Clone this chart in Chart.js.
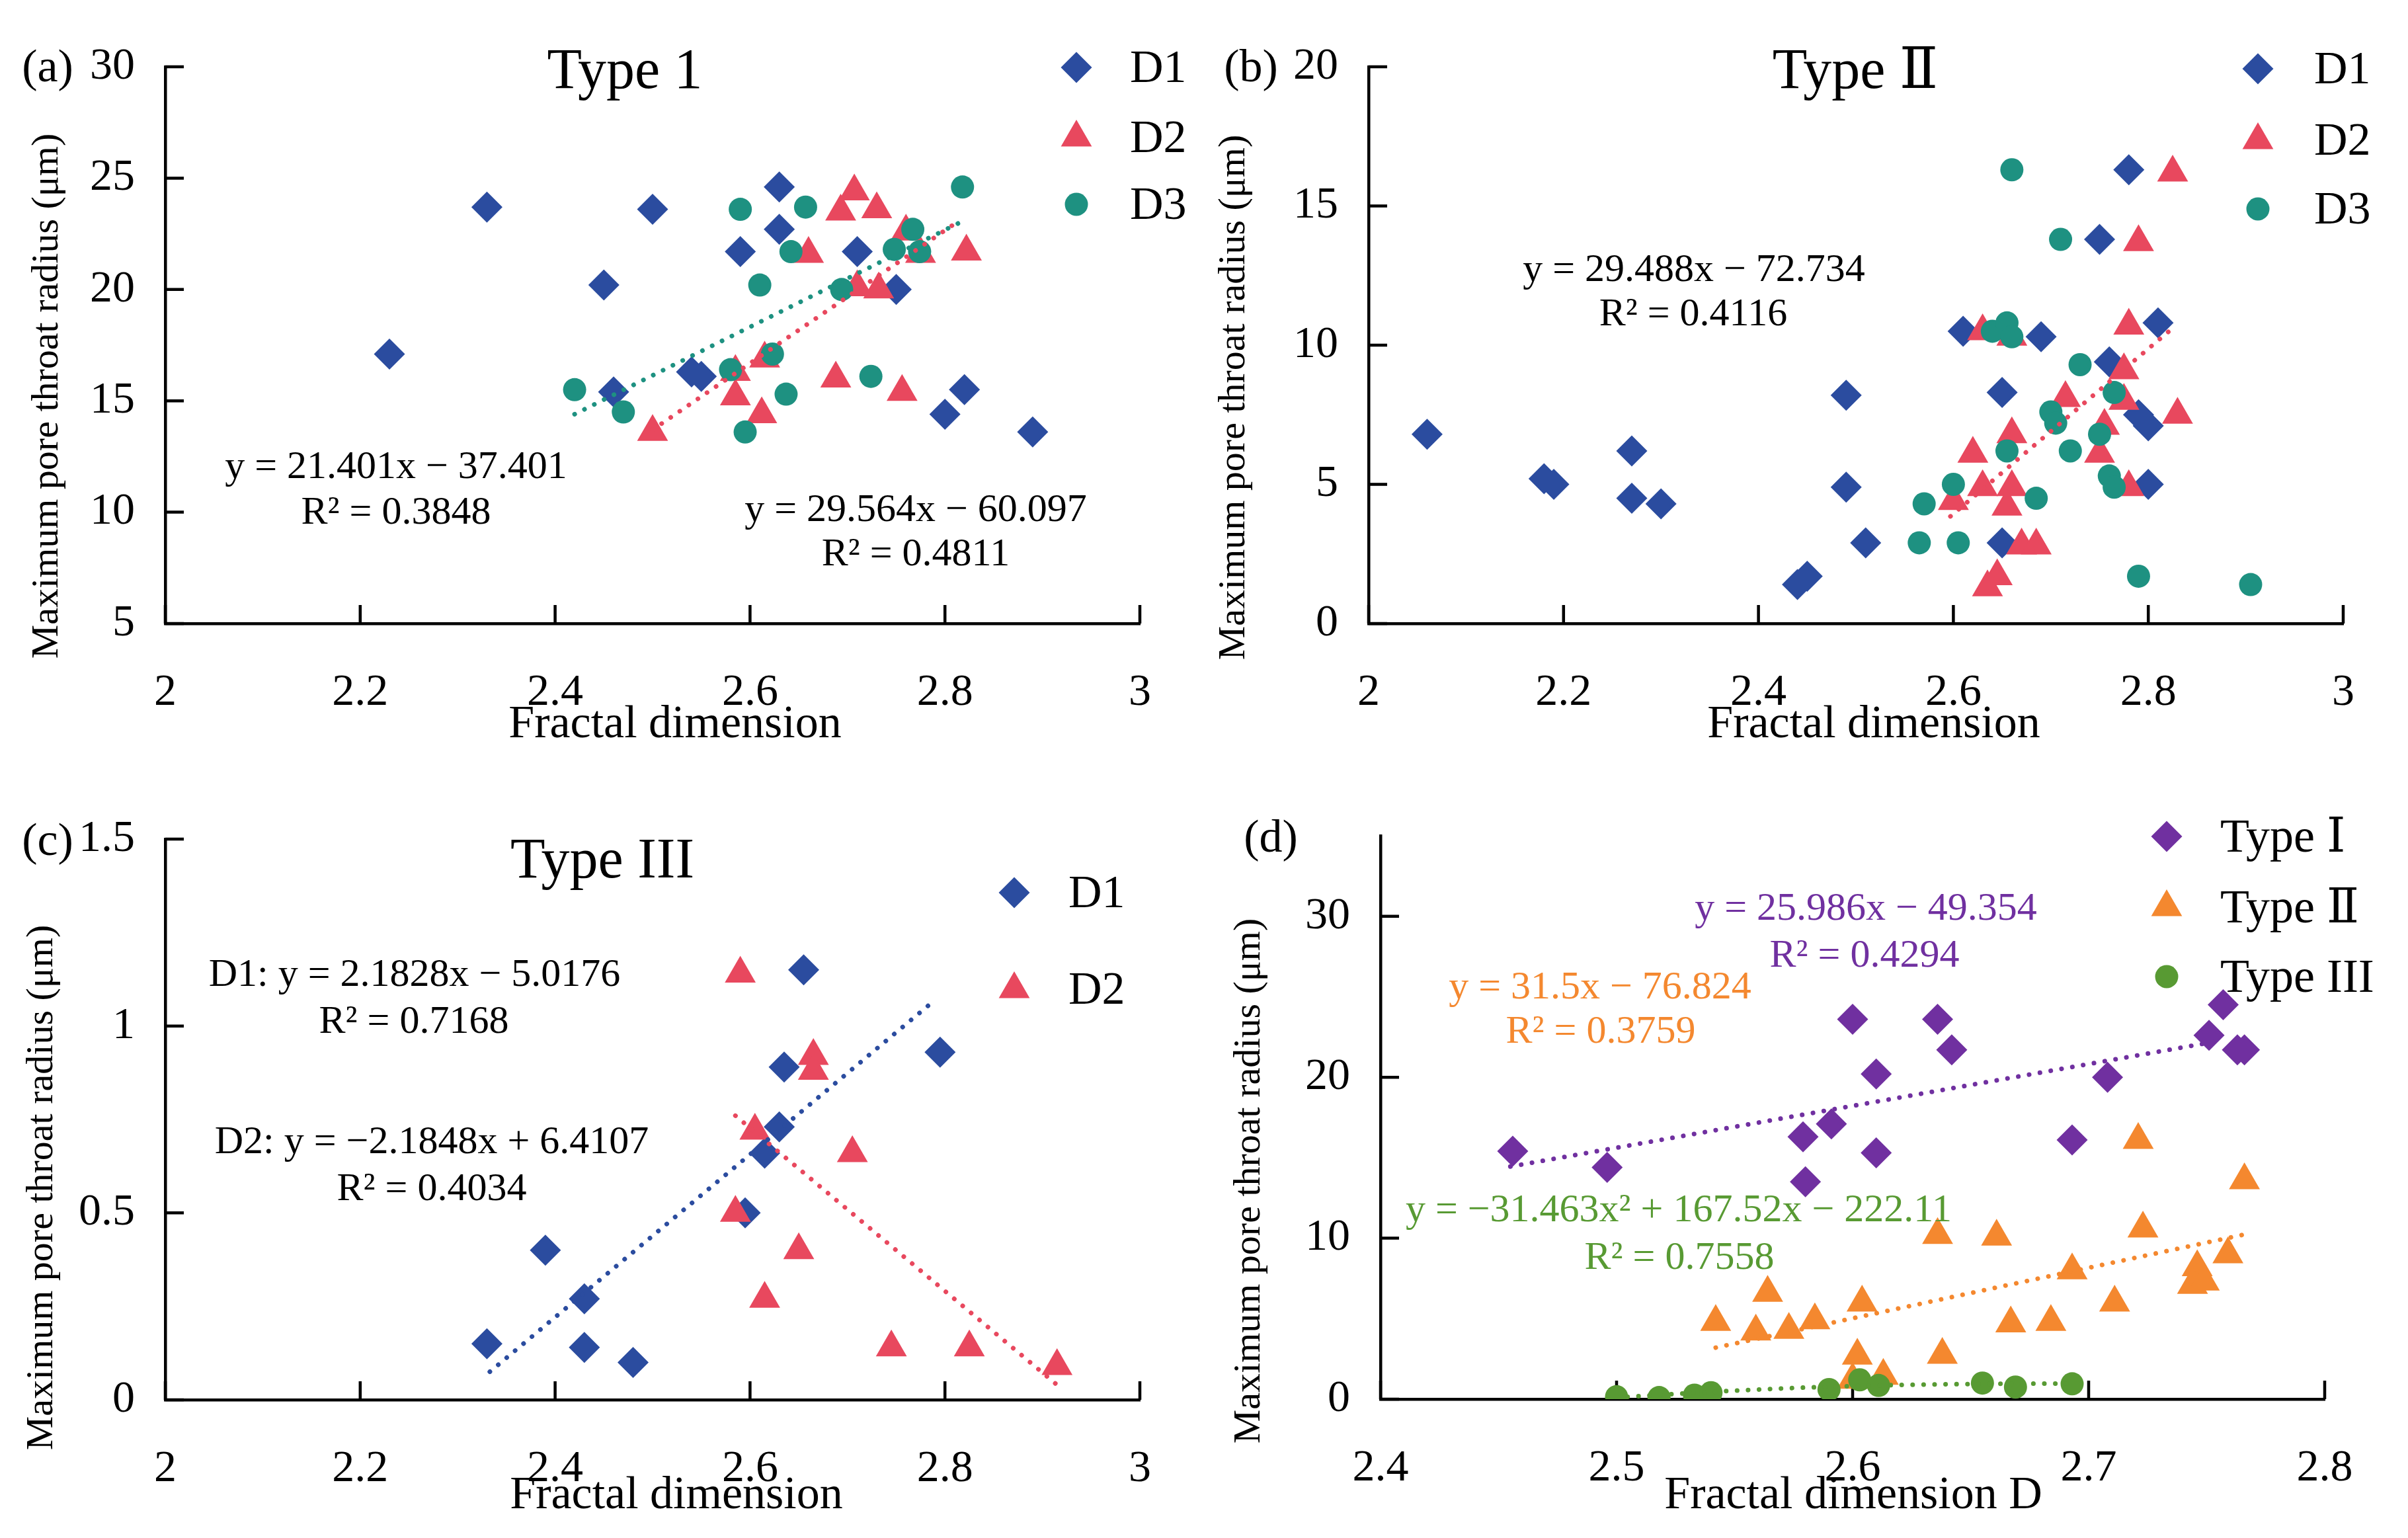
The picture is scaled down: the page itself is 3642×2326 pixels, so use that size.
<!DOCTYPE html>
<html>
<head>
<meta charset="utf-8">
<script src="https://cdn.jsdelivr.net/npm/chart.js@4.4.0/dist/chart.umd.min.js"></script>
<style>
html,body{margin:0;padding:0;background:#ffffff;overflow:hidden;}
#wrap{position:relative;width:3642px;height:2326px;background:#ffffff;}
canvas{position:absolute;left:0;top:0;}
</style>
</head>
<body>
<div id="wrap">
<canvas id="ca" width="3642" height="2326"></canvas>
<canvas id="cb" width="3642" height="2326"></canvas>
<canvas id="cc" width="3642" height="2326"></canvas>
<canvas id="cd" width="3642" height="2326"></canvas>
</div>
<script>
// ---------------- DATA ----------------
// Panel (a) Type 1
const aXTicks = [2, 2.2, 2.4, 2.6, 2.8, 3];
const aYTicks = [5, 10, 15, 20, 25, 30];
const aD1x = [2.23, 2.33, 2.50, 2.45, 2.46, 2.54, 2.55, 2.63, 2.63, 2.59, 2.71, 2.75, 2.80, 2.82, 2.89];
const aD1y = [17.1, 23.7, 23.6, 20.2, 15.4, 16.3, 16.1, 24.6, 22.7, 21.7, 21.7, 20.0, 14.4, 15.5, 13.6];
const aD2x = [2.50, 2.585, 2.585, 2.615, 2.612, 2.66, 2.688, 2.693, 2.707, 2.73, 2.71, 2.732, 2.756, 2.76, 2.775, 2.822];
const aD2y = [13.6, 16.3, 15.2, 16.9, 14.4, 21.6, 16.0, 23.5, 24.4, 23.6, 20.1, 20.0, 15.4, 22.6, 21.6, 21.7];
const aD3x = [2.42, 2.47, 2.59, 2.61, 2.58, 2.595, 2.623, 2.637, 2.642, 2.657, 2.694, 2.724, 2.748, 2.767, 2.774, 2.818];
const aD3y = [15.5, 14.5, 23.6, 20.2, 16.4, 13.6, 17.1, 15.3, 21.7, 23.7, 20.0, 16.1, 21.8, 22.7, 21.7, 24.6];
const aFitD3x = [2.42, 2.815];
const aFitD3y = [14.4, 23.0];
const aFitD2x = [2.50, 2.815];
const aFitD2y = [13.7, 23.1];

// Panel (b) Type II
const bXTicks = [2, 2.2, 2.4, 2.6, 2.8, 3];
const bYTicks = [0, 5, 10, 15, 20];
const bD1x = [2.06, 2.18, 2.19, 2.27, 2.27, 2.30, 2.49, 2.49, 2.51, 2.44, 2.45, 2.61, 2.69, 2.65, 2.65, 2.78, 2.75, 2.76, 2.79, 2.80, 2.81, 2.80];
const bD1y = [6.8, 5.2, 5.0, 6.2, 4.5, 4.3, 8.2, 4.9, 2.9, 1.4, 1.7, 10.5, 10.3, 8.3, 2.9, 16.3, 13.8, 9.4, 7.5, 7.1, 10.8, 5.0];
const bD2x = [2.60, 2.62, 2.63, 2.63, 2.635, 2.645, 2.66, 2.655, 2.66, 2.66, 2.67, 2.685, 2.715, 2.75, 2.755, 2.775, 2.78, 2.775, 2.78, 2.79, 2.825, 2.83];
const bD2y = [4.4, 6.1, 10.5, 4.9, 1.3, 1.7, 4.9, 4.2, 6.8, 10.3, 2.8, 2.8, 8.1, 6.1, 7.1, 9.1, 10.7, 8.0, 4.9, 13.7, 16.2, 7.5];
const bD3x = [2.66, 2.71, 2.64, 2.655, 2.66, 2.73, 2.70, 2.705, 2.765, 2.75, 2.72, 2.655, 2.76, 2.765, 2.60, 2.57, 2.685, 2.565, 2.605, 2.79, 2.905];
const bD3y = [16.3, 13.8, 10.5, 10.8, 10.3, 9.3, 7.6, 7.2, 8.3, 6.8, 6.2, 6.2, 5.3, 4.9, 5.0, 4.3, 4.5, 2.9, 2.9, 1.7, 1.4];
const bFitD2x = [2.597, 2.828];
const bFitD2y = [3.85, 10.7];

// Panel (c) Type III
const cXTicks = [2, 2.2, 2.4, 2.6, 2.8, 3];
const cYTicks = [0, 0.5, 1, 1.5];
const cD1x = [2.33, 2.39, 2.43, 2.43, 2.48, 2.595, 2.615, 2.63, 2.635, 2.655, 2.795];
const cD1y = [0.15, 0.40, 0.27, 0.14, 0.10, 0.50, 0.66, 0.73, 0.89, 1.15, 0.93];
const cD2x = [2.59, 2.585, 2.605, 2.665, 2.665, 2.705, 2.65, 2.615, 2.745, 2.825, 2.915];
const cD2y = [1.14, 0.50, 0.72, 0.92, 0.88, 0.66, 0.40, 0.27, 0.14, 0.14, 0.09];
const cFitD1x = [2.333, 2.79];
const cFitD1y = [0.075, 1.07];
const cFitD2x = [2.585, 2.915];
const cFitD2y = [0.76, 0.04];

// Panel (d) all types
const dXTicks = [2.4, 2.5, 2.6, 2.7, 2.8];
const dYTicks = [0, 10, 20, 30];
const dT1x = [2.456, 2.496, 2.579, 2.591, 2.580, 2.600, 2.610, 2.610, 2.636, 2.642, 2.693, 2.708, 2.751, 2.757, 2.763, 2.766];
const dT1y = [15.4, 14.4, 16.3, 17.1, 13.5, 23.6, 20.2, 15.3, 23.6, 21.7, 16.1, 20.0, 22.6, 24.5, 21.7, 21.7];
const dT2x = [2.542, 2.559, 2.564, 2.573, 2.584, 2.604, 2.602, 2.600, 2.613, 2.636, 2.638, 2.661, 2.667, 2.684, 2.693, 2.711, 2.721, 2.723, 2.746, 2.744, 2.749, 2.759, 2.766];
const dT2y = [4.8, 4.2, 6.6, 4.3, 4.9, 6.0, 2.7, 1.2, 1.45, 10.2, 2.75, 10.1, 4.7, 4.8, 8.0, 6.0, 16.1, 10.6, 8.2, 7.1, 7.3, 9.0, 13.6];
const dT3x = [2.500, 2.518, 2.533, 2.540, 2.590, 2.603, 2.611, 2.655, 2.669, 2.693];
const dT3y = [0.15, 0.1, 0.25, 0.4, 0.6, 1.2, 0.85, 1.0, 0.75, 0.95];
const dFitT1x = [2.455, 2.757];
const dFitT1y = [14.45, 22.3];
const dFitT2x = [2.542, 2.765];
const dFitT2y = [3.2, 10.2];
const dFitT3x = [2.50, 2.54, 2.58, 2.62, 2.66, 2.695];
const dFitT3y = [0.1, 0.45, 0.72, 0.88, 0.95, 0.97];

// ---------------- STYLE ----------------
const FONT = "'Liberation Serif','DejaVu Serif','Times New Roman',serif";
const C_BLUE = '#2B4C9F', C_RED = '#E8485E', C_TEAL = '#1E9181';
const C_PURPLE = '#7030A0', C_ORANGE = '#F4882F', C_GREEN = '#589A33';
const W = 3642, H = 2326, YW = 200, XH = 150, TICK = 28, AXW = 4.5;
const R_DIA = 23.5, R_TRI = 27, R_CIR = 17.5;

function pts(xs, ys) { return xs.map((v, i) => ({ x: v, y: ys[i] })); }

function marker(label, xs, ys, style, color, order) {
  const r = style === 'rectRot' ? R_DIA : (style === 'triangle' ? R_TRI : R_CIR);
  return { label, data: pts(xs, ys), pointStyle: style, pointRadius: r, pointHoverRadius: r,
    backgroundColor: color, borderColor: color, pointBorderWidth: 0, borderWidth: 0, showLine: false, order };
}
function fit(xs, ys, color, curve) {
  return { label: 'fit', data: pts(xs, ys), showLine: true, pointRadius: 0, pointHoverRadius: 0,
    borderColor: color, backgroundColor: color, borderWidth: 7, borderDash: [0.1, 16.5],
    borderCapStyle: 'round', fill: false, tension: curve ? 0.4 : 0,
    cubicInterpolationMode: curve ? 'monotone' : 'default', order: 0 };
}

function drawShape(ctx, style, x, y, color) {
  ctx.fillStyle = color;
  ctx.beginPath();
  if (style === 'rectRot') {
    const r = R_DIA;
    ctx.moveTo(x, y - r); ctx.lineTo(x + r, y); ctx.lineTo(x, y + r); ctx.lineTo(x - r, y);
  } else if (style === 'triangle') {
    const r = R_TRI;
    ctx.moveTo(x, y - r); ctx.lineTo(x + 0.866 * r, y + 0.5 * r); ctx.lineTo(x - 0.866 * r, y + 0.5 * r);
  } else {
    ctx.arc(x, y, R_CIR, 0, Math.PI * 2);
  }
  ctx.closePath();
  ctx.fill();
}

function makeChart(id, P) {
  const box = P.box;
  const deco = {
    id: 'deco_' + id,
    beforeDatasetsDraw(chart) {
      const ctx = chart.ctx, ca = chart.chartArea, xs = chart.scales.x, ys = chart.scales.y;
      ctx.save();
      ctx.strokeStyle = '#000'; ctx.lineWidth = AXW; ctx.lineCap = 'butt';
      ctx.beginPath();
      xs.ticks.forEach(t => { const px = xs.getPixelForValue(t.value); ctx.moveTo(px, ca.bottom); ctx.lineTo(px, ca.bottom - TICK); });
      ys.ticks.forEach(t => { const py = ys.getPixelForValue(t.value); ctx.moveTo(ca.left, py); ctx.lineTo(ca.left + TICK, py); });
      ctx.stroke();
      ctx.restore();
    },
    afterDraw(chart) {
      const ctx = chart.ctx;
      ctx.save();
      ctx.textBaseline = 'middle';
      P.texts.forEach(t => {
        ctx.font = t.size + 'px ' + FONT;
        ctx.fillStyle = t.color || '#000';
        ctx.textAlign = t.align || 'center';
        if (t.rot) {
          ctx.save(); ctx.translate(t.x, t.y); ctx.rotate(-Math.PI / 2);
          ctx.fillText(t.t, 0, 0); ctx.restore();
        } else {
          ctx.fillText(t.t, t.x, t.y);
        }
      });
      const L = P.legend;
      L.items.forEach(it => {
        drawShape(ctx, it.style, L.mx, it.y, it.color);
        ctx.font = L.size + 'px ' + FONT;
        ctx.fillStyle = '#000'; ctx.textAlign = 'left';
        ctx.fillText(it.label, L.tx, it.y + 4);
      });
      ctx.restore();
    }
  };
  const tickFont = { family: FONT, size: 68 };
  return new Chart(document.getElementById(id), {
    type: 'scatter',
    data: { datasets: P.datasets },
    options: {
      responsive: false, animation: false, events: [], devicePixelRatio: 1,
      layout: { padding: { left: box.L - YW, right: W - box.R, top: box.T, bottom: H - box.B - XH } },
      plugins: { legend: { display: false }, tooltip: { enabled: false }, title: { display: false } },
      scales: {
        x: {
          type: 'linear', min: P.xr[0], max: P.xr[1],
          afterBuildTicks: s => { s.ticks = P.xt.map(v => ({ value: v })); },
          afterFit: s => { s.height = XH; },
          ticks: { font: tickFont, color: '#000', padding: 64, maxRotation: 0, autoSkip: false, callback: v => String(v) },
          grid: { display: false, drawTicks: false },
          border: { display: true, color: '#000', width: AXW }
        },
        y: {
          type: 'linear', min: P.yr[0], max: P.yr[1],
          afterBuildTicks: s => { s.ticks = P.yt.map(v => ({ value: v })); },
          afterFit: s => { s.width = YW; },
          ticks: { font: tickFont, color: '#000', padding: 46, autoSkip: false, callback: v => String(v) },
          grid: { display: false, drawTicks: false },
          border: { display: true, color: '#000', width: AXW }
        }
      }
    },
    plugins: [deco]
  });
}

const YT = 'Maximum pore throat radius (\u03bcm)';

// Panel (a)
makeChart('ca', {
  box: { L: 250, R: 1724, T: 101, B: 943 }, xr: [2, 3], yr: [5, 30], xt: aXTicks, yt: aYTicks,
  datasets: [
    fit(aFitD3x, aFitD3y, C_TEAL), fit(aFitD2x, aFitD2y, C_RED),
    marker('D3', aD3x, aD3y, 'circle', C_TEAL, 1),
    marker('D2', aD2x, aD2y, 'triangle', C_RED, 2),
    marker('D1', aD1x, aD1y, 'rectRot', C_BLUE, 3)
  ],
  texts: [
    { t: '(a)', x: 72, y: 105, size: 70 },
    { t: 'Type 1', x: 945, y: 110, size: 86 },
    { t: 'y = 21.401x \u2212 37.401', x: 599, y: 707, size: 60 },
    { t: 'R\u00b2 = 0.3848', x: 599, y: 776, size: 60 },
    { t: 'y = 29.564x \u2212 60.097', x: 1385, y: 772, size: 60 },
    { t: 'R\u00b2 = 0.4811', x: 1385, y: 839, size: 60 },
    { t: 'Fractal dimension', x: 1021, y: 1097, size: 70 },
    { t: YT, x: 72, y: 599, size: 58, rot: true }
  ],
  legend: { mx: 1628, tx: 1709, size: 70, items: [
    { label: 'D1', style: 'rectRot', color: C_BLUE, y: 102 },
    { label: 'D2', style: 'triangle', color: C_RED, y: 208 },
    { label: 'D3', style: 'circle', color: C_TEAL, y: 309 }
  ] }
});

// Panel (b)
makeChart('cb', {
  box: { L: 2070, R: 3544, T: 101, B: 943 }, xr: [2, 3], yr: [0, 20], xt: bXTicks, yt: bYTicks,
  datasets: [
    fit(bFitD2x, bFitD2y, C_RED),
    marker('D3', bD3x, bD3y, 'circle', C_TEAL, 1),
    marker('D2', bD2x, bD2y, 'triangle', C_RED, 2),
    marker('D1', bD1x, bD1y, 'rectRot', C_BLUE, 3)
  ],
  texts: [
    { t: '(b)', x: 1892, y: 105, size: 70 },
    { t: 'Type \u2161', x: 2806, y: 110, size: 86 },
    { t: 'y = 29.488x \u2212 72.734', x: 2562, y: 409, size: 60 },
    { t: 'R\u00b2 = 0.4116', x: 2561, y: 476, size: 60 },
    { t: 'Fractal dimension', x: 2834, y: 1097, size: 70 },
    { t: YT, x: 1867, y: 601, size: 58, rot: true }
  ],
  legend: { mx: 3415, tx: 3500, size: 70, items: [
    { label: 'D1', style: 'rectRot', color: C_BLUE, y: 104 },
    { label: 'D2', style: 'triangle', color: C_RED, y: 212 },
    { label: 'D3', style: 'circle', color: C_TEAL, y: 316 }
  ] }
});

// Panel (c)
makeChart('cc', {
  box: { L: 250, R: 1724, T: 1269, B: 2117 }, xr: [2, 3], yr: [0, 1.5], xt: cXTicks, yt: cYTicks,
  datasets: [
    fit(cFitD1x, cFitD1y, C_BLUE), fit(cFitD2x, cFitD2y, C_RED),
    marker('D2', cD2x, cD2y, 'triangle', C_RED, 2),
    marker('D1', cD1x, cD1y, 'rectRot', C_BLUE, 3)
  ],
  texts: [
    { t: '(c)', x: 72, y: 1275, size: 70 },
    { t: 'Type III', x: 911, y: 1304, size: 86 },
    { t: 'D1: y = 2.1828x \u2212 5.0176', x: 627, y: 1475, size: 60 },
    { t: 'R\u00b2 = 0.7168', x: 626, y: 1546, size: 60 },
    { t: 'D2: y = \u22122.1848x + 6.4107', x: 653, y: 1728, size: 60 },
    { t: 'R\u00b2 = 0.4034', x: 653, y: 1799, size: 60 },
    { t: 'Fractal dimension', x: 1023, y: 2263, size: 70 },
    { t: YT, x: 64, y: 1796, size: 58, rot: true }
  ],
  legend: { mx: 1534, tx: 1616, size: 70, items: [
    { label: 'D1', style: 'rectRot', color: C_BLUE, y: 1350 },
    { label: 'D2', style: 'triangle', color: C_RED, y: 1496 }
  ] }
});

// Panel (d)
makeChart('cd', {
  box: { L: 2088, R: 3516, T: 1264, B: 2116 }, xr: [2.4, 2.8], yr: [0, 35], xt: dXTicks, yt: dYTicks,
  datasets: [
    fit(dFitT1x, dFitT1y, C_PURPLE), fit(dFitT2x, dFitT2y, C_ORANGE), fit(dFitT3x, dFitT3y, C_GREEN, true),
    marker('Type III', dT3x, dT3y, 'circle', C_GREEN, 1),
    marker('Type II', dT2x, dT2y, 'triangle', C_ORANGE, 2),
    marker('Type I', dT1x, dT1y, 'rectRot', C_PURPLE, 3)
  ],
  texts: [
    { t: '(d)', x: 1922, y: 1270, size: 70 },
    { t: 'y = 25.986x \u2212 49.354', x: 2822, y: 1375, size: 60, color: C_PURPLE },
    { t: 'R\u00b2 = 0.4294', x: 2820, y: 1446, size: 60, color: C_PURPLE },
    { t: 'y = 31.5x \u2212 76.824', x: 2420, y: 1494, size: 60, color: C_ORANGE },
    { t: 'R\u00b2 = 0.3759', x: 2421, y: 1561, size: 60, color: C_ORANGE },
    { t: 'y = \u221231.463x\u00b2 + 167.52x \u2212 222.11', x: 2539, y: 1831, size: 60, color: C_GREEN },
    { t: 'R\u00b2 = 0.7558', x: 2540, y: 1903, size: 60, color: C_GREEN },
    { t: 'Fractal dimension D', x: 2803, y: 2263, size: 70 },
    { t: YT, x: 1890, y: 1786, size: 58, rot: true }
  ],
  legend: { mx: 3277, tx: 3358, size: 72, items: [
    { label: 'Type \u2160', style: 'rectRot', color: C_PURPLE, y: 1265 },
    { label: 'Type \u2161', style: 'triangle', color: C_ORANGE, y: 1372 },
    { label: 'Type III', style: 'circle', color: C_GREEN, y: 1477 }
  ] }
});
</script>
</body>
</html>
